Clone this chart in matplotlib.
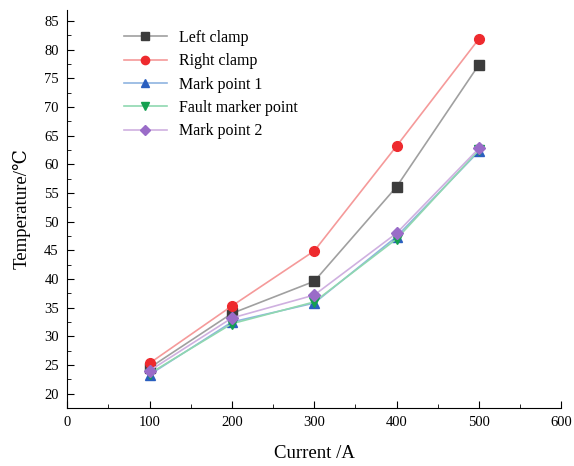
import matplotlib.pyplot as plt
from matplotlib.ticker import MultipleLocator

plt.rcParams['font.family'] = ['Liberation Serif', 'DejaVu Serif']

current = [100, 200, 300, 400, 500]
left_clamp = [24.5, 34.0, 39.6, 56.1, 77.4]
right_clamp = [25.3, 35.3, 44.9, 63.2, 81.9]
mark_point_1 = [23.3, 32.5, 35.8, 47.4, 62.3]
fault_point = [23.5, 32.2, 36.0, 47.0, 62.5]
mark_point_2 = [24.0, 33.2, 37.2, 48.0, 62.8]

series = [
    ("Left clamp", left_clamp, "#a0a0a0", "#3c3c3c", "s"),
    ("Right clamp", right_clamp, "#f59a9a", "#ee2a2e", "o"),
    ("Mark point 1", mark_point_1, "#8fb4e0", "#2a5fbf", "^"),
    ("Fault marker point", fault_point, "#8fd8b0", "#14a050", "v"),
    ("Mark point 2", mark_point_2, "#cfb0e0", "#9a6cc8", "D"),
]

fig = plt.figure(figsize=(5.74, 4.66), dpi=100)
ax = fig.add_axes([0.117, 0.1245, 0.861, 0.855])

for name, vals, lc, mc, mk in series:
    ms = 6 if mk == "D" else 7
    ax.plot(current, vals, color=lc, lw=1.2, marker=mk, markersize=ms,
            markerfacecolor=mc, markeredgecolor=mc, label=name)

ax.set_xlim(0, 600)
ax.set_ylim(17.5, 87)
ax.xaxis.set_major_locator(MultipleLocator(100))
ax.xaxis.set_minor_locator(MultipleLocator(50))
ax.yaxis.set_minor_locator(MultipleLocator(2.5))
ax.set_yticks(range(20, 86, 5))
ax.tick_params(which='both', direction='in', labelsize=10.5)
ax.tick_params(which='major', length=5, pad=6)
ax.tick_params(which='minor', length=3)
ax.spines['top'].set_visible(False)
ax.spines['right'].set_visible(False)
ax.set_xlabel("Current /A", fontsize=13.5, labelpad=11)
ax.set_ylabel("Temperature/℃", fontsize=13.5, labelpad=10)

ax.legend(loc='upper left', bbox_to_anchor=(0.085, 0.985), frameon=False,
          fontsize=11.5, handlelength=2.7, labelspacing=0.46, markerscale=0.85)

fig.savefig("out.png", dpi=100)
